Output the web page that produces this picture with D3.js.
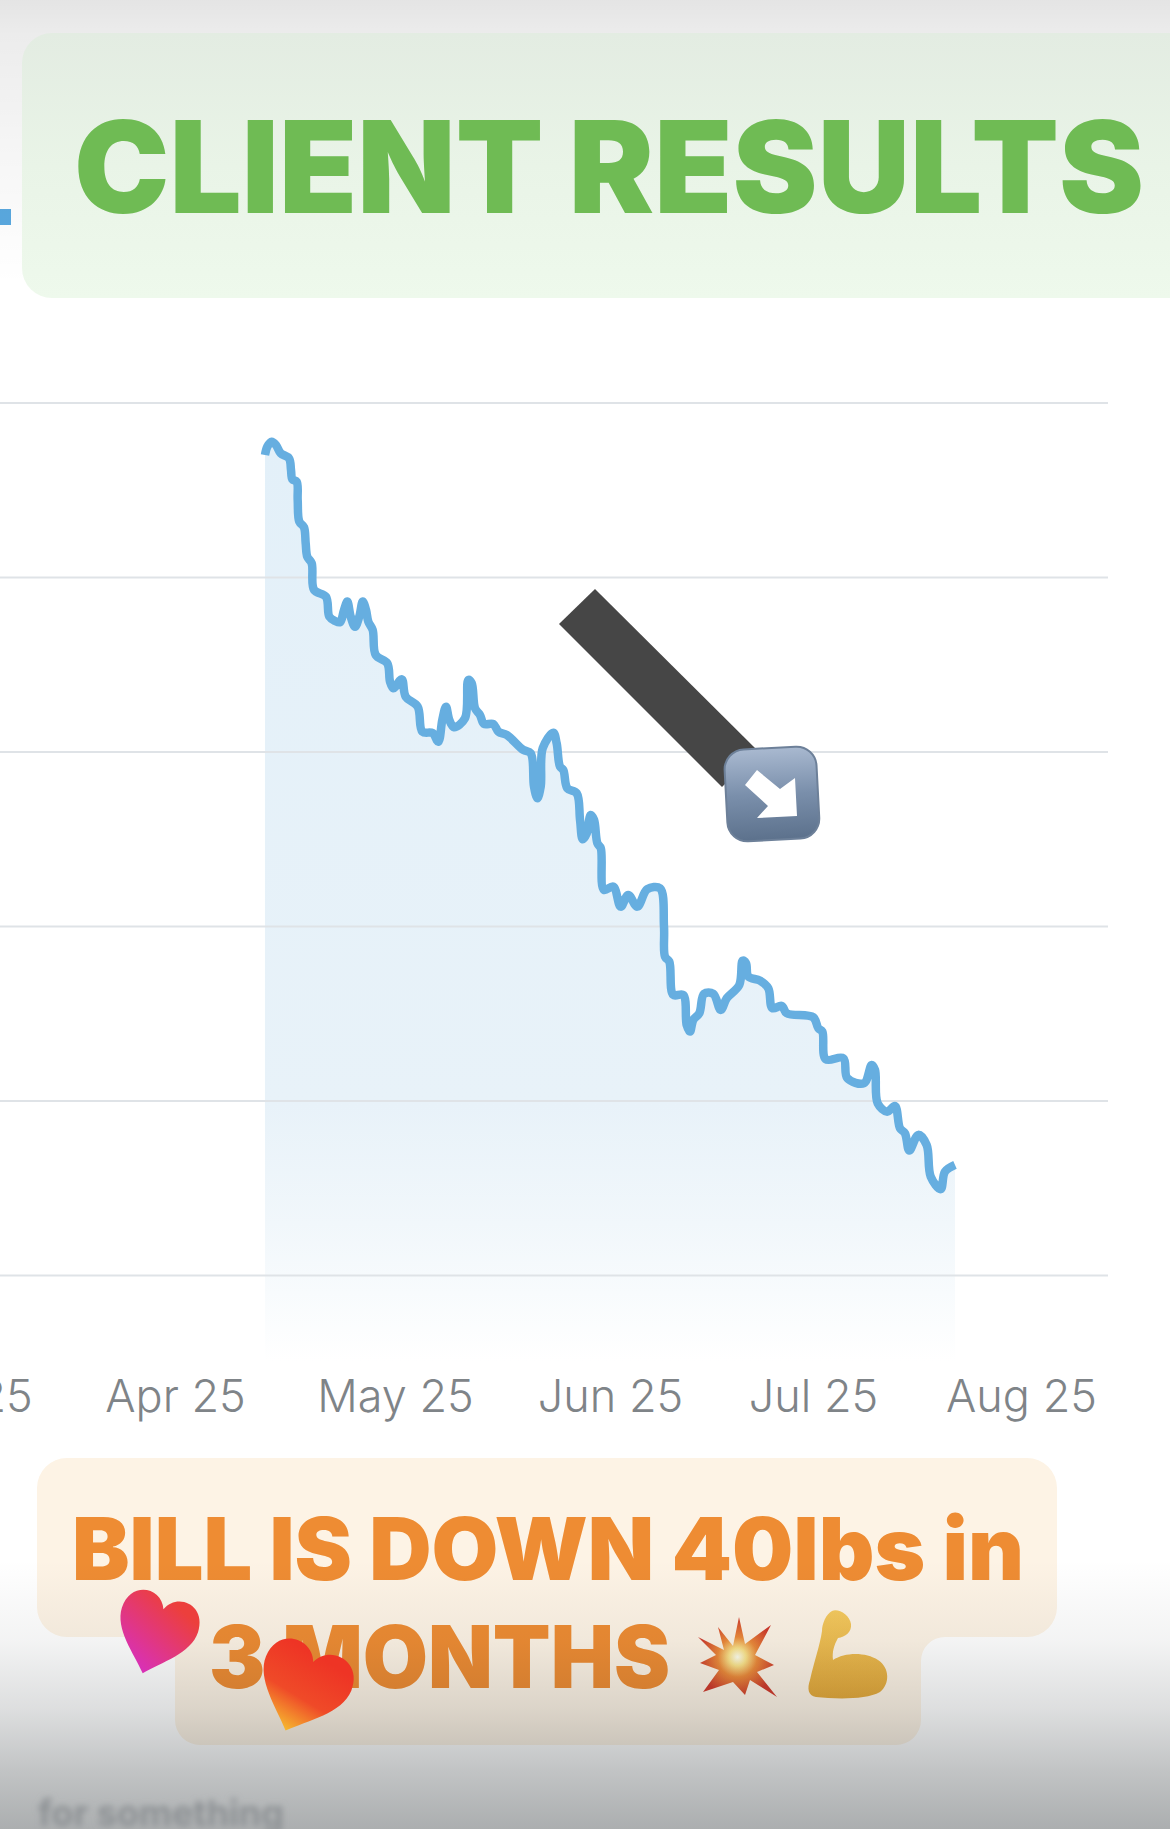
<!DOCTYPE html>
<html>
<head>
<meta charset="utf-8">
<script src="https://cdn.jsdelivr.net/npm/d3@7/dist/d3.min.js"></script>
<style>
html,body{margin:0;padding:0;background:#fff;overflow:hidden}
svg{display:block}
</style>
</head>
<body>
<svg id="c" width="1170" height="1829" viewBox="0 0 1170 1829"></svg>
<script>
// Days after 1 Apr 2025
const dayOffsets = [12.27,12.59,13.19,13.77,14.41,15.55,15.82,16.0,16.6,16.73,16.95,17.59,17.82,18.04,18.64,18.96,20.59,21.04,21.82,22.5,23.05,23.5,23.96,24.55,25.13,25.6,26.05,26.36,26.96,27.37,28.95,29.32,29.77,
30.97,31.54,33.27,33.94,35.44,36.24,36.82,37.35,37.83,38.51,40.09,40.57,41.06,41.54,42.26,42.83,44.17,44.9,46.11,48.5,49.57,50.04,50.52,51.01,51.3,52.83,53.31,53.79,54.27,54.85,56.2,56.68,57.07,57.65,58.22,58.7,59.18,59.67,60.13,
61.49,62.58,63.7,65.03,66.51,68.39,68.98,69.13,69.76,70.35,71.83,72.33,72.82,73.31,74.2,74.89,76.27,77.36,78.25,80.11,80.61,81.1,81.44,83.17,84.4,84.99,86.38,87.12,
91.04,91.79,92.39,92.89,95.52,96.11,98.6,99.75,100.24,100.64,102.07,103.22,103.96,104.71,105.35,106.69,107.94,108.54,110.03,110.67,112.16];
// Body weight, lbs (the picture has no y labels: estimated from the "40lbs" note)
const weights = [286.99,287.47,287.75,287.56,287.09,286.8,286.13,285.6,285.46,284.41,283.17,282.85,281.93,281.16,280.79,279.26,278.87,277.73,277.48,277.41,278.11,278.59,277.73,277.15,277.73,278.59,278.11,277.44,276.96,275.53,275.06,274.0,273.62,
274.14,273.14,272.57,271.14,271.05,270.56,271.81,272.57,271.81,271.39,271.9,274.1,273.91,272.48,272.09,271.58,271.58,271.14,270.95,270.09,269.9,267.99,267.32,267.99,270.19,271.08,270.47,269.13,268.94,267.89,267.61,266.08,264.97,265.31,266.36,266.08,264.74,264.46,262.07,
262.26,261.11,261.78,261.11,262.11,262.16,259.96,258.24,257.96,256.05,256.05,254.33,253.95,254.62,255.0,256.11,256.11,255.19,255.86,256.62,258.01,257.87,257.1,256.87,256.43,255.29,255.42,255.0,
254.77,254.14,253.95,252.37,252.42,251.28,250.99,252.04,251.75,249.84,249.36,249.69,248.41,248.12,247.13,248.03,247.45,245.64,244.92,245.92,246.31];
const monthStarts = ["2025-03-01","2025-04-01","2025-05-01","2025-06-01","2025-07-01","2025-08-01"];
const monthLabels = ["Mar 25","Apr 25","May 25","Jun 25","Jul 25","Aug 25"];
const monthPixels = [-42,175,395,610,813,1021];
const gridValues = [290,280,270,260,250,240];
const titleText = "CLIENT RESULTS";
const captionLines = ["BILL IS DOWN 40lbs in","3 MONTHS"];

const svg = d3.select("#c");
const defs = svg.append("defs");
function grad(id, stops, x1=0,y1=0,x2=0,y2=1, user){
  const g = defs.append("linearGradient").attr("id",id).attr("x1",x1).attr("y1",y1).attr("x2",x2).attr("y2",y2);
  if(user) g.attr("gradientUnits","userSpaceOnUse");
  stops.forEach(s=>g.append("stop").attr("offset",s[0]).attr("stop-color",s[1]).attr("stop-opacity",s[2]===undefined?1:s[2]));
}
grad("areaG",[[0,"#e3f0f9"],[0.72,"#e8f2f9"],[0.85,"#f1f7fb"],[1,"#ffffff"]],0,440,0,1362,true);
grad("topShade",[[0,"#000",0.105],[0.12,"#000",0.075],[0.5,"#000",0.04],[1,"#000",0]]);
grad("titleBox",[[0,"#e3ece2"],[0.5,"#e9f4e7"],[1,"#eef9ec"]]);
grad("botShade",[[0,"#10181c",0],[0.3,"#10181c",0.05],[0.55,"#10181c",0.14],[0.79,"#10181c",0.26],[1,"#10181c",0.35]]);
grad("btn",[[0,"#a9b9d0"],[0.5,"#7a8fab"],[1,"#5c718c"]]);
grad("heart1",[[0,"#ec3f3c"],[1,"#d62fc4"]],0.7,0.1,0.3,1);
grad("heart2",[[0,"#ee3425"],[0.55,"#ef4a28"],[1,"#f6bb2f"]],0.6,0.1,0.45,1);
grad("arm",[[0,"#f4c95e"],[1,"#e3a83a"]]);
const rg = defs.append("radialGradient").attr("id","burst");
[[0,"#fffff0"],[0.22,"#fbe38a"],[0.5,"#ec8a3a"],[1,"#cf3a2c"]].forEach(s=>rg.append("stop").attr("offset",s[0]).attr("stop-color",s[1]));
defs.append("filter").attr("id","blur").append("feGaussianBlur").attr("stdDeviation",3);

svg.append("rect").attr("width",1170).attr("height",1829).attr("fill","#fff");

// Scales
const toDate = d => new Date(Date.UTC(2025,3,1) + d*864e5);
const x = d3.scaleUtc().domain(monthStarts.map(s=>new Date(s+"T00:00:00Z"))).range(monthPixels);
const y = d3.scaleLinear().domain([290,240]).range([402.5,1275]);
const baseline = 1362;
const pts = dayOffsets.map((d,i)=>({t:toDate(d),w:weights[i]}));

// Area under gridlines' tint
svg.append("path").datum(pts)
  .attr("d",d3.area().x(d=>x(d.t)).y0(baseline).y1(d=>y(d.w)).curve(d3.curveMonotoneX))
  .attr("fill","url(#areaG)");

// Gridlines
const gridAxis = d3.axisLeft(y).tickValues(gridValues).tickSize(-1108).tickFormat("");
const gg = svg.append("g").call(gridAxis);
gg.select(".domain").remove();
gg.selectAll("line").attr("stroke","#dfe3e7").attr("stroke-width",2);

// Line
svg.append("path").datum(pts)
  .attr("d",d3.line().x(d=>x(d.t)).y(d=>y(d.w)).curve(d3.curveCatmullRom.alpha(0.5)))
  .attr("fill","none").attr("stroke","#66aee0").attr("stroke-width",8.5)
  .attr("stroke-linejoin","round").attr("stroke-linecap","butt");

// X axis
const xAxis = d3.axisBottom(x).tickValues(monthStarts.map(s=>new Date(s+"T00:00:00Z")))
  .tickSize(0).tickPadding(0).tickFormat((d,i)=>monthLabels[i]);
const xg = svg.append("g").attr("transform","translate(0,1412)").call(xAxis);
xg.select(".domain").remove();
xg.selectAll("text").attr("dy",0).attr("y",0).attr("font-family","Inter, Roboto, sans-serif").attr("font-weight",300)
  .attr("font-size",45).attr("fill","#7f8488").attr("text-anchor","middle");

// Blue fragment at left edge
svg.append("rect").attr("x",0).attr("y",209).attr("width",11).attr("height",16).attr("fill","#5aa9e0");

// Top shade sits under the title label
svg.append("rect").attr("x",0).attr("y",0).attr("width",1170).attr("height",285).attr("fill","url(#topShade)");

// Title label
svg.append("rect").attr("x",22).attr("y",33).attr("width",1200).attr("height",265).attr("rx",30).attr("fill","url(#titleBox)");
svg.append("text").text(titleText).attr("x",74).attr("y",213)
  .attr("font-family","Inter,'Liberation Sans',Arial,sans-serif").attr("font-weight",900).attr("font-size",128)
  .attr("textLength",1070).attr("lengthAdjust","spacingAndGlyphs")
  .attr("fill","#6fbb54");

// Annotation arrow
svg.append("polygon").attr("points","595,589 559,624 722,787 758,751").attr("fill","#464646");
const b = svg.append("g").attr("transform","rotate(-3 772 795)");
b.append("rect").attr("x",726).attr("y",748).attr("width",92).attr("height",92).attr("rx",20)
  .attr("fill","url(#btn)").attr("stroke","#6d8099").attr("stroke-width",2);
svg.append("polygon").attr("points","757,770 745,785 768,806 757,818 797,816 795,778 780,789").attr("fill","#fff");

// Caption
svg.append("path").attr("d","M67,1458 H1027 a30,30 0 0 1 30,30 V1607 a30,30 0 0 1 -30,30 H945 a24,24 0 0 0 -24,24 V1720 a25,25 0 0 1 -25,25 H200 a25,25 0 0 1 -25,-25 V1661 a24,24 0 0 0 -24,-24 H67 a30,30 0 0 1 -30,-30 V1488 a30,30 0 0 1 30,-30 Z")
  .attr("fill","#fdf3e5");
const capStyle = s => s.attr("font-family","Inter,'Liberation Sans',Arial,sans-serif").attr("font-weight",900)
  .attr("font-size",86).attr("fill","#ee8c33").attr("lengthAdjust","spacingAndGlyphs");
svg.append("text").text(captionLines[0]).attr("x",72).attr("y",1580).attr("textLength",952).call(capStyle);
svg.append("text").text(captionLines[1]).attr("x",209).attr("y",1688).attr("textLength",461).call(capStyle);

// Burst
const burstAngles = [ [698,1637],[724,1650],[718,1627],[733,1646],[739,1617],[745,1644],[771,1625],[755,1655],[774,1665],[757,1672],[777,1697],[750,1680],[745,1695],[733,1682],[703,1692],[719,1670],[700,1663],[716,1655] ];
svg.append("polygon").attr("points",burstAngles.join(" ")).attr("fill","url(#burst)");
// Flexed arm
svg.append("path").attr("d","M832,1611 C838,1608 850,1615 851,1624 C852,1632 845,1637 838,1638 C834,1645 832,1652 833,1660 C845,1652 866,1652 878,1660 C890,1668 890,1684 880,1692 C866,1700 835,1699 816,1697 C808,1696 807,1688 810,1680 C814,1662 820,1645 822,1631 C822,1624 826,1614 832,1611 Z")
  .attr("fill","url(#arm)");

// Bottom shade
svg.append("rect").attr("x",0).attr("y",1560).attr("width",1170).attr("height",269).attr("fill","url(#botShade)");

// Ghost caption
svg.append("text").text("for something").attr("x",38).attr("y",1826)
  .attr("font-family","Inter,'Liberation Sans',Arial,sans-serif").attr("font-weight",700).attr("font-size",36)
  .attr("fill","#8d9194").attr("filter","url(#blur)");

// Hearts
const heart = "M0,-22 C10,-48 50,-44 50,-8 C50,20 18,42 0,62 C-18,42 -50,20 -50,-8 C-50,-44 -10,-48 0,-22 Z";
svg.append("path").attr("d",heart).attr("transform","translate(158,1626) rotate(18) scale(0.8,0.8)").attr("fill","url(#heart1)");
svg.append("path").attr("d",heart).attr("transform","translate(306,1680) rotate(22) scale(0.92,0.88)").attr("fill","url(#heart2)");
</script>
</body>
</html>
